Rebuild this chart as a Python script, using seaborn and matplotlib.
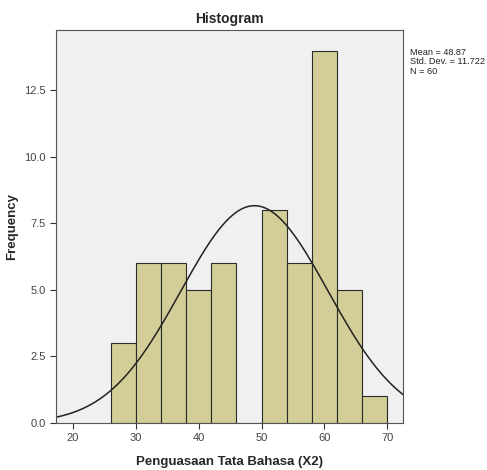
import numpy as np
import pandas as pd
import seaborn as sns
import matplotlib.pyplot as plt

# histogram bins (width 4) and counts
bin_edges = [26, 30, 34, 38, 42, 46, 50, 54, 58, 62, 66, 70]
counts = [3, 6, 6, 5, 6, 0, 8, 6, 14, 5, 1]
mean = 48.87
std_dev = 11.722
n = 60

x_ticks = [20, 30, 40, 50, 60, 70]
y_ticks = [0.0, 2.5, 5.0, 7.5, 10.0, 12.5]

sns.set_style("white")
plt.rcParams['font.family'] = ['Liberation Sans', 'DejaVu Sans']

centers = [(a + b) / 2 for a, b in zip(bin_edges[:-1], bin_edges[1:])]
data = pd.DataFrame({'score': centers, 'count': counts})

fig = plt.figure(figsize=(4.87, 4.70), dpi=100)
ax = fig.add_axes([0.115, 0.1, 0.7125, 0.836])
ax.set_facecolor('#F0F0F0')

sns.histplot(data=data, x='score', weights='count', bins=bin_edges,
             color='#D3CE97', edgecolor='#2b2b2b', linewidth=0.8,
             alpha=1, ax=ax)

# fitted normal curve scaled to counts
bw = bin_edges[1] - bin_edges[0]
xs = np.linspace(17.3, 72.5, 300)
ys = n * bw * np.exp(-0.5 * ((xs - mean) / std_dev) ** 2) / (std_dev * np.sqrt(2 * np.pi))
sns.lineplot(x=xs, y=ys, color='#222222', linewidth=1.1, ax=ax)

ax.set_xlim(17.3, 72.5)
ax.set_ylim(0, 14.77)
ax.set_xticks(x_ticks)
ax.set_yticks(y_ticks)
ax.set_yticklabels([f'{v:.1f}' for v in y_ticks])
ax.tick_params(axis='both', direction='out', length=4, width=0.8,
               labelsize=8, colors='#333333', labelcolor='#444444')
ax.tick_params(left=True, bottom=True)
for s in ax.spines.values():
    s.set_color('#555555')
    s.set_linewidth(0.8)

ax.set_title('Histogram', fontsize=10, fontweight='bold', pad=5)
ax.set_xlabel('Penguasaan Tata Bahasa (X2)', fontsize=9.5, fontweight='bold')
ax.set_ylabel('Frequency', fontsize=9.5, fontweight='bold')
ax.xaxis.set_label_coords(0.5, -0.085)
ax.yaxis.set_label_coords(-0.11, 0.5)

fig.text(0.842, 0.898, f'Mean = {mean:.2f}\nStd. Dev. = {std_dev:.3f}\nN = {n}',
         fontsize=6.6, va='top', ha='left', color='#222222', linespacing=1.05)

plt.savefig('out.png', dpi=100)
